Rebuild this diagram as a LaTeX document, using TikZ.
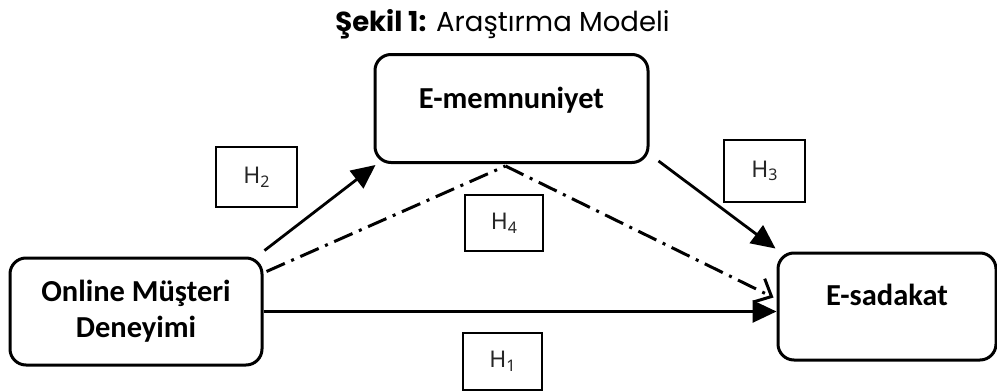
\documentclass[tikz,border=0pt]{standalone}
\usepackage{fontspec}
\setmainfont{Carlito}
\newfontfamily\titlefont{Poppins}
\newfontfamily\hfont{Noto Sans}
\usetikzlibrary{arrows.meta}

\tikzset{
  model/.style={draw, line width=3pt, rounded corners=16pt, font=\fontsize{30.5}{36}\selectfont\bfseries, align=center},
  hyp/.style={draw, line width=1.5pt, font=\hfont\fontsize{23}{27}\selectfont, text=black!85},
  path/.style={line width=2.8pt, -{Triangle[length=24pt,width=22pt]}},
  mediate/.style={line width=3pt, dash pattern=on 20pt off 7pt on 3pt off 7pt}
}

\newcommand{\hlab}[1]{H\raisebox{-0.3ex}{\fontsize{16}{18}\selectfont #1}}

\begin{document}
\begin{tikzpicture}[x=1pt,y=-1pt]
    \useasboundingbox (0,0) rectangle (997,391);
    % Title
    \node (title) at (502.5,24) {\titlefont\fontsize{27.5}{32}\selectfont\textbf{Şekil 1:} Araştırma Modeli};

    % Constructs
    \node[model, minimum width=252pt, minimum height=107pt] (online) at (136,311.5) {Online Müşteri\\Deneyimi};
    \node[model, minimum width=273pt, minimum height=108pt, text height=22pt, text depth=23pt] (mem) at (511.5,108.5) {E-memnuniyet};
    \node[model, minimum width=218pt, minimum height=107pt, text height=22pt, text depth=25pt] (sad) at (887,306.5) {E-sadakat};

    % Hypotheses
    \node[hyp, minimum width=81pt, minimum height=60pt] (h2) at (256.5,177) {\hlab{2}};
    \node[hyp, minimum width=78pt, minimum height=56pt] (h4) at (504,223) {\hlab{4}};
    \node[hyp, minimum width=81pt, minimum height=62pt] (h3) at (764.5,171) {\hlab{3}};
    \node[hyp, minimum width=79pt, minimum height=57pt] (h1) at (502.5,361.5) {\hlab{1}};

    % Paths
    \draw[path] ([shift={(1,-6)}]online.north east) -- ([shift={(2,1)}]mem.south west);
    \draw[path] ([shift={(9,-3)}]mem.south east) -- ([shift={(-1,-3)}]sad.north west);
    \draw[path] (online.east) -- (online.east -| sad.west);
    \coordinate (turn) at ([shift={(-6,2)}]mem.south);
    \draw[mediate] ([shift={(3,15)}]online.north east) -- (turn);
    \draw[mediate, -{Straight Barb[length=14pt,width=26pt]}] (turn) -- ([shift={(-3,-9)}]sad.west);
\end{tikzpicture}
\end{document}
